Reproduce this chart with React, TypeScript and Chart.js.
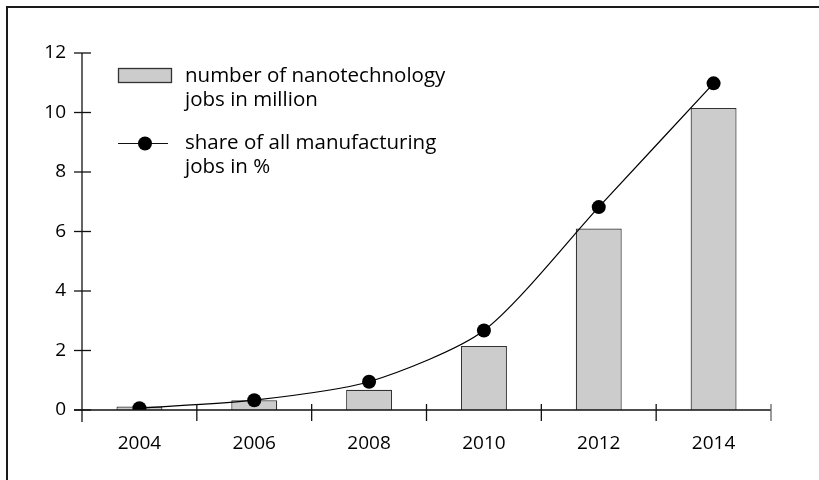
import React, { useEffect, useRef } from "react";
import { Chart, registerables } from "chart.js";

Chart.register(...registerables);

const years = ["2004", "2006", "2008", "2010", "2012", "2014"];
const jobsMillion = [0.12, 0.33, 0.68, 2.15, 6.1, 10.15];
const sharePercent = [0.06, 0.33, 0.95, 2.67, 6.82, 10.98];
const barLegend = ["number of nanotechnology", "jobs in million"];
const lineLegend = ["share of all manufacturing", "jobs in %"];
const yTicks = [0, 2, 4, 6, 8, 10, 12];

const FONT = "'Open Sans', 'Noto Sans', sans-serif";

const customAxes = {
  id: "customAxes",
  afterDraw(chart: any) {
    const ctx = chart.ctx;
    const y = chart.scales.y;
    const left = chart.chartArea.left;
    const right = chart.chartArea.right;
    const y0 = y.getPixelForValue(0);
    const yTop = y.getPixelForValue(12);
    ctx.save();
    // frame (left + top)
    ctx.strokeStyle = "#1a1a1a";
    ctx.lineWidth = 2;
    ctx.beginPath();
    ctx.moveTo(7, 480);
    ctx.lineTo(7, 7);
    ctx.lineTo(819, 7);
    ctx.stroke();

    ctx.strokeStyle = "#111";
    ctx.lineWidth = 1.3;
    // y axis
    ctx.beginPath();
    ctx.moveTo(left, yTop);
    ctx.lineTo(left, y0 + 12);
    ctx.stroke();
    yTicks.forEach((v) => {
      const py = y.getPixelForValue(v);
      ctx.beginPath();
      ctx.moveTo(left - 8, py);
      ctx.lineTo(left + 9, py);
      ctx.stroke();
    });
    // x axis
    ctx.beginPath();
    ctx.moveTo(left - 8, y0);
    ctx.lineTo(right, y0);
    ctx.stroke();
    const n = years.length;
    for (let i = 1; i <= n; i++) {
      const px = left + ((right - left) * i) / n;
      ctx.strokeStyle = i === n ? "#666" : "#111";
      ctx.beginPath();
      ctx.moveTo(px, y0 - 6);
      ctx.lineTo(px, y0 + 11);
      ctx.stroke();
    }

    // legend
    ctx.font = `20.5px ${FONT}`;
    ctx.textBaseline = "alphabetic";
    ctx.textAlign = "left";
    ctx.fillStyle = "#cccccc";
    ctx.fillRect(118.5, 68.5, 53, 14);
    ctx.strokeStyle = "#333";
    ctx.lineWidth = 1.3;
    ctx.strokeRect(118.5, 68.5, 53, 14);
    ctx.fillStyle = "#000";
    ctx.fillText(barLegend[0], 185, 82);
    ctx.fillText(barLegend[1], 185, 106);

    ctx.strokeStyle = "#111";
    ctx.lineWidth = 1.2;
    ctx.beginPath();
    ctx.moveTo(118, 143.5);
    ctx.lineTo(168, 143.5);
    ctx.stroke();
    ctx.beginPath();
    ctx.arc(145, 143.5, 7, 0, Math.PI * 2);
    ctx.fillStyle = "#000";
    ctx.fill();
    ctx.fillText(lineLegend[0], 185, 149);
    ctx.fillText(lineLegend[1], 185, 173);
    ctx.restore();
  },
};

export default function App() {
  const ref = useRef<HTMLCanvasElement>(null);
  useEffect(() => {
    if (!ref.current) return;
    const chart = new Chart(ref.current, {
      type: "bar",
      data: {
        labels: years,
        datasets: [
          {
            type: "line",
            label: lineLegend.join(" "),
            data: sharePercent,
            borderColor: "#000",
            borderWidth: 1.2,
            backgroundColor: "#000",
            pointRadius: 7,
            pointBorderWidth: 0,
            pointBackgroundColor: "#000",
            tension: 0.25,
            order: 0,
          } as any,
          {
            type: "bar",
            label: barLegend.join(" "),
            data: jobsMillion,
            backgroundColor: "#cccccc",
            borderColor: "#333",
            borderWidth: 1.2,
            categoryPercentage: 1,
            barPercentage: 0.4,
            order: 1,
          },
        ],
      },
      options: {
        animation: false,
        responsive: false,
        layout: { padding: { top: 53, right: 48, left: 0, bottom: 0 } },
        plugins: { legend: { display: false }, tooltip: { enabled: false } },
        scales: {
          x: {
            offset: true,
            grid: { display: false, drawTicks: false },
            border: { display: false },
            ticks: { font: { size: 19, family: FONT }, color: "#000", padding: 22 },
            afterFit: (s: any) => {
              s.height = 70;
            },
          },
          y: {
            min: 0,
            max: 12,
            grid: { display: false, drawTicks: false },
            border: { display: false },
            ticks: {
              stepSize: 2,
              font: { size: 19, family: FONT },
              color: "#000",
              padding: 16,
            },
            afterFit: (s: any) => {
              s.width = 82;
            },
          },
        },
      },
      plugins: [customAxes],
    });
    return () => chart.destroy();
  }, []);
  return (
    <div style={{ position: "absolute", left: 0, top: 0, width: 819, height: 480, background: "#fff" }}>
      <canvas ref={ref} width={819} height={480} style={{ display: "block" }} />
    </div>
  );
}
